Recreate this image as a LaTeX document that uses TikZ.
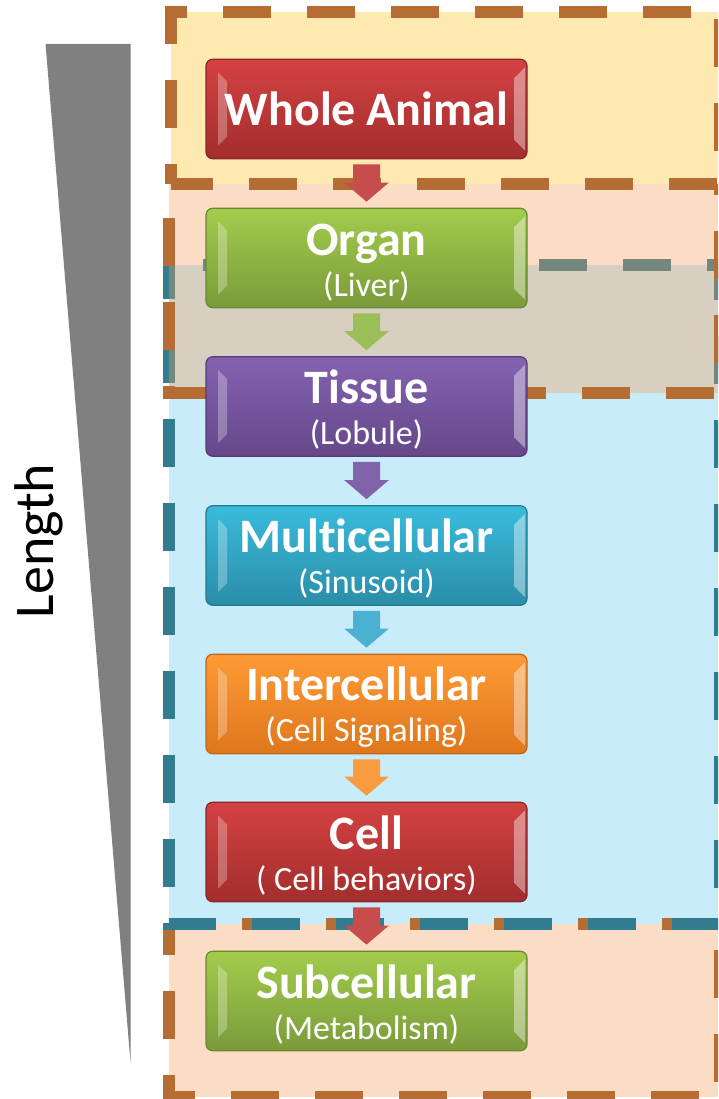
\documentclass[tikz,border=0pt]{standalone}
\usepackage{fontspec}
\setmainfont{Carlito}[Ligatures=NoCommon]
\usepackage{tikz}
\usetikzlibrary{calc}
\usepackage{xcolor}
\definecolor{wedgeGray}{HTML}{808080}
\definecolor{zoneYellow}{HTML}{FEE9B0}
\definecolor{zoneOrange}{HTML}{F39E59}
\definecolor{zoneBlue}{HTML}{C8ECFA}
\definecolor{dashBrown}{HTML}{B56D33}
\definecolor{dashTeal}{HTML}{327C8F}
\definecolor{lvRedTop}{HTML}{D44242}
\definecolor{lvRedBot}{HTML}{A32D2D}
\definecolor{lvRedEdge}{HTML}{8A2626}
\definecolor{lvGreenTop}{HTML}{A3CC4C}
\definecolor{lvGreenBot}{HTML}{7A9B3A}
\definecolor{lvGreenEdge}{HTML}{6A8732}
\definecolor{lvPurpleTop}{HTML}{8462B0}
\definecolor{lvPurpleBot}{HTML}{65488A}
\definecolor{lvPurpleEdge}{HTML}{553C76}
\definecolor{lvCyanTop}{HTML}{3ABBDC}
\definecolor{lvCyanBot}{HTML}{2A8DA8}
\definecolor{lvCyanEdge}{HTML}{237890}
\definecolor{lvOrangeTop}{HTML}{FD9B36}
\definecolor{lvOrangeBot}{HTML}{DF761C}
\definecolor{lvOrangeEdge}{HTML}{C0661A}
\definecolor{arRed}{HTML}{C74D4D}
\definecolor{arGreen}{HTML}{9BBF58}
\definecolor{arPurple}{HTML}{8163A9}
\definecolor{arCyan}{HTML}{4AB2D0}
\definecolor{arOrange}{HTML}{F99B40}

\newcommand{\lvtitle}[1]{{\fontsize{36}{30.75}\selectfont\bfseries\rule{0pt}{30pt}#1}}
\newcommand{\stepdown}[3]{%
  \fill[#1] ($(#2.south)+(-13.5,5)$) -- ($(#2.south)+(13.5,5)$)
    -- ($(#3.north)+(13.5,-25)$) -- ($(#3.north)+(22.25,-25)$)
    -- ($(#3.north)+(0,-6)$) -- ($(#3.north)+(-22.25,-25)$)
    -- ($(#3.north)+(-13.5,-25)$) -- cycle;}

\begin{document}
\begin{tikzpicture}[x=0.75pt, y=-0.75pt,
    zone/.style={line width=9pt, dash pattern=on 36pt off 27pt},
    level/.style={rectangle, rounded corners=5pt, minimum width=240.75pt, minimum height=74.6pt,
        inner sep=0pt, line width=0.9pt, draw=#1Edge, top color=#1Top, bottom color=#1Bot,
        text=white, align=center, font=\fontsize{25.5}{30.75}\selectfont,
        path picture={
            \fill[white, opacity=.28, sharp corners] ($(path picture bounding box.north west)+(12,13)$) -- ++(9,9)
                -- ($(path picture bounding box.south west)+(21,-22)$) -- ++(-9,9) -- cycle;
            \fill[white, opacity=.4, sharp corners] ($(path picture bounding box.north east)+(-2,8)$) -- ++(-11,11)
                -- ($(path picture bounding box.south east)+(-13,-19)$) -- ++(11,11) -- cycle;
        }},
]
    \useasboundingbox (0,0) rectangle (718,1099);
    \clip (0,0) rectangle (718,1099);

    % Length wedge
    \fill[wedgeGray] (45.5,44) -- (130.5,44) -- (130.5,1062) -- cycle;
    \node[rotate=90, anchor=base, font=\fontsize{42}{50}\selectfont] (lengthlabel) at (53,541) {Length};

    % Zones
    \fill[zoneBlue] (169,265) rectangle (720,924);
    \fill[zoneOrange, fill opacity=.35] (169,924) rectangle (720,1097);
    \draw[zone, dashBrown, dash phase=12.75pt] (169,924) -- (169,1097) -- (720,1097) -- (720,924) -- cycle;
    \draw[zone, dashTeal, dash phase=37.5pt] (169,265) -- (720,265) -- (720,924) -- (169,924) -- cycle;
    \fill[zoneOrange, fill opacity=.35] (168.5,184) rectangle (720,392.5);
    \draw[zone, dashBrown, dash phase=37.5pt] (168.5,184) -- (168.5,392.5) -- (720,392.5) -- (720,184);
    \fill[zoneYellow] (171,12) rectangle (720,184);
    \draw[zone, dashBrown, dash phase=21pt] (171,184) -- (171,12) -- (720,12) -- (720,184) -- cycle;

    % Levels
    \node[level=lvRed, font=\fontsize{36}{30.75}\selectfont\bfseries] (animal) at (366.5,109) {Whole Animal};
    \node[level=lvGreen] (organ) at (366.5,258) {\lvtitle{Organ}\\(Liver)};
    \node[level=lvPurple] (tissue) at (366.5,406.5) {\lvtitle{Tissue}\\(Lobule)};
    \node[level=lvCyan] (multi) at (366.5,555.5) {\lvtitle{Multicellular}\\(Sinusoid)};
    \node[level=lvOrange] (inter) at (366.5,704) {\lvtitle{Intercellular}\\(Cell Signaling)};
    \node[level=lvRed] (cell) at (366.5,852) {\lvtitle{Cell}\\( Cell behaviors)};
    \node[level=lvGreen] (subcell) at (366.5,1001) {\lvtitle{Subcellular}\\(Metabolism)};

    % Arrows
    \stepdown{arRed}{animal}{organ}
    \stepdown{arGreen}{organ}{tissue}
    \stepdown{arPurple}{tissue}{multi}
    \stepdown{arCyan}{multi}{inter}
    \stepdown{arOrange}{inter}{cell}
    \stepdown{arRed}{cell}{subcell}
\end{tikzpicture}
\end{document}
